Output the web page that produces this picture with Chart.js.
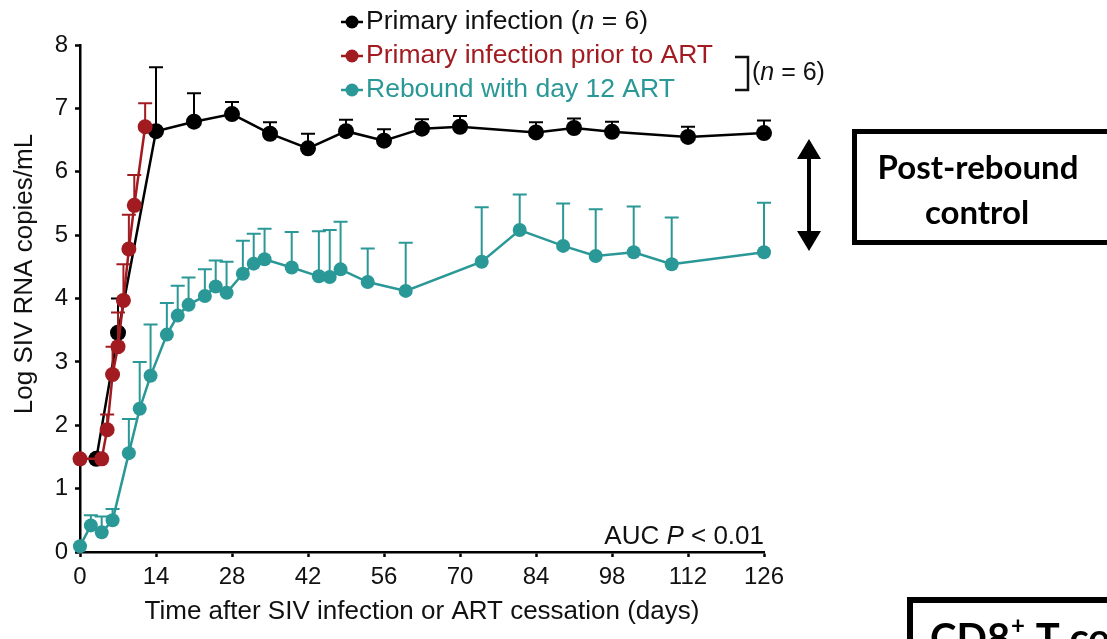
<!DOCTYPE html>
<html>
<head>
<meta charset="utf-8">
<script src="https://cdn.jsdelivr.net/npm/chart.js@4.4.1/dist/chart.umd.min.js"></script>
<style>
  html, body { margin: 0; padding: 0; background: #fff; }
  canvas { display: block; }
</style>
</head>
<body>
<canvas id="c" width="1107" height="639" style="width:1107px;height:639px"></canvas>
<script>
// ---------- data ----------
const xTicks = [0, 14, 28, 42, 56, 70, 84, 98, 112, 126];
const yTicks = [0, 1, 2, 3, 4, 5, 6, 7, 8];

const primaryDays = [3, 7, 14, 21, 28, 35, 42, 49, 56, 63, 70, 84, 91, 98, 112, 126];
const primaryVals = [1.47, 3.46, 6.64, 6.79, 6.91, 6.6, 6.37, 6.64, 6.49, 6.68, 6.71, 6.62, 6.69, 6.63, 6.55, 6.61];
const primaryErr  = [0, 0.54, 1.01, 0.45, 0.19, 0.18, 0.23, 0.18, 0.18, 0.15, 0.17, 0.16, 0.15, 0.16, 0.16, 0.2];

const priorDays = [0, 4, 5, 6, 7, 8, 9, 10, 12];
const priorVals = [1.47, 1.47, 1.93, 2.8, 3.24, 3.97, 4.78, 5.47, 6.71];
const priorErr  = [0, 0, 0.24, 0.44, 0.54, 0.57, 0.54, 0.48, 0.37];

const reboundDays = [0, 2, 4, 6, 9, 11, 13, 16, 18, 20, 23, 25, 27, 30, 32, 34, 39, 44, 46, 48, 53, 60, 74, 81, 89, 95, 102, 109, 126];
const reboundVals = [0.09, 0.42, 0.31, 0.5, 1.56, 2.26, 2.78, 3.43, 3.73, 3.9, 4.04, 4.19, 4.09, 4.39, 4.55, 4.62, 4.49, 4.35, 4.34, 4.46, 4.26, 4.12, 4.58, 5.08, 4.83, 4.67, 4.73, 4.54, 4.73];
const reboundErr  = [0, 0.16, 0.25, 0.18, 0.54, 0.74, 0.81, 0.5, 0.47, 0.43, 0.42, 0.41, 0.49, 0.52, 0.47, 0.48, 0.56, 0.71, 0.74, 0.75, 0.53, 0.76, 0.86, 0.56, 0.67, 0.74, 0.72, 0.74, 0.78];

const seriesLabels = ['Primary infection prior to ART', 'Primary infection', 'Rebound with day 12 ART'];

// ---------- styles ----------
const BLACK = '#000000';
const RED = '#a11b20';
const TEAL = '#2a9896';
const FONT = '"Liberation Sans", Arial, sans-serif';
const BOLDFONT = 'Lato, "Open Sans", sans-serif';

const toXY = (xs, ys) => xs.map((x, i) => ({ x: x, y: ys[i] }));
const errs = [priorErr, primaryErr, reboundErr];

function ds(label, xs, ys, color, r) {
  return {
    label: label,
    data: toXY(xs, ys),
    borderColor: color,
    backgroundColor: color,
    pointBackgroundColor: color,
    pointBorderColor: color,
    pointRadius: r,
    pointBorderWidth: 0,
    borderWidth: 2.5,
    tension: 0,
    clip: false
  };
}

const errorBars = {
  id: 'errorBars',
  beforeDatasetDraw(chart, args) {
    const i = args.index;
    const e = errs[i];
    const d = chart.data.datasets[i];
    const xs = chart.scales.x, ys = chart.scales.y;
    const c = chart.ctx;
    c.save();
    c.strokeStyle = d.borderColor;
    c.lineWidth = 2;
    d.data.forEach((p, k) => {
      if (!e[k]) return;
      const px = xs.getPixelForValue(p.x);
      const y0 = ys.getPixelForValue(p.y);
      const y1 = ys.getPixelForValue(p.y + e[k]);
      c.beginPath();
      c.moveTo(px, y0);
      c.lineTo(px, y1);
      c.moveTo(px - 7, y1);
      c.lineTo(px + 7, y1);
      c.stroke();
    });
    c.restore();
  }
};

function drawRich(c, parts, x, y, size, color, align) {
  let total = 0;
  parts.forEach(p => {
    c.font = (p[1] ? 'italic ' : '') + size + 'px ' + FONT;
    total += c.measureText(p[0]).width;
  });
  let cx = align === 'right' ? x - total : x;
  c.fillStyle = color;
  c.textBaseline = 'middle';
  c.textAlign = 'left';
  parts.forEach(p => {
    c.font = (p[1] ? 'italic ' : '') + size + 'px ' + FONT;
    c.fillText(p[0], cx, y);
    cx += c.measureText(p[0]).width;
  });
}

const extras = {
  id: 'extras',
  beforeDraw(chart) {
    const c = chart.ctx;
    c.save();
    c.fillStyle = '#fff';
    c.fillRect(0, 0, chart.width, chart.height);
    c.restore();
  },
  afterDraw(chart) {
    const c = chart.ctx;
    const area = chart.chartArea;
    c.save();
    // axis titles
    c.fillStyle = '#111';
    c.font = '26px ' + FONT;
    c.textAlign = 'center';
    c.textBaseline = 'middle';
    c.fillText('Time after SIV infection or ART cessation (days)', (area.left + area.right) / 2, 612);
    c.save();
    c.translate(25, 274);
    c.rotate(-Math.PI / 2);
    c.fillText('Log SIV RNA copies/mL', 0, 0);
    c.restore();

    // AUC
    drawRich(c, [['AUC ', false], ['P', true], [' < 0.01', false]], area.right, 537, 26, '#111', 'right');

    // legend
    const rows = [
      { y: 22, color: BLACK, text: [['Primary infection (', false], ['n', true], [' = 6)', false]], tc: '#111' },
      { y: 56, color: RED, text: [['Primary infection prior to ART', false]], tc: RED },
      { y: 90, color: TEAL, text: [['Rebound with day 12 ART', false]], tc: TEAL }
    ];
    rows.forEach(r => {
      c.strokeStyle = r.color;
      c.lineWidth = 2.5;
      c.beginPath();
      c.moveTo(341, r.y);
      c.lineTo(363, r.y);
      c.stroke();
      c.fillStyle = r.color;
      c.beginPath();
      c.arc(352, r.y, 6.5, 0, Math.PI * 2);
      c.fill();
      drawRich(c, r.text, 366, r.y, 26.5, r.tc, 'left');
    });
    // bracket
    c.strokeStyle = '#111';
    c.lineWidth = 2.5;
    c.beginPath();
    c.moveTo(735, 57);
    c.lineTo(748, 57);
    c.lineTo(748, 90);
    c.lineTo(735, 90);
    c.stroke();
    drawRich(c, [['(', false], ['n', true], [' = 6)', false]], 752, 73, 25, '#111', 'left');

    // double arrow
    c.fillStyle = '#000';
    c.strokeStyle = '#000';
    c.lineWidth = 4;
    c.beginPath();
    c.moveTo(809, 152);
    c.lineTo(809, 238);
    c.stroke();
    c.beginPath();
    c.moveTo(809, 139); c.lineTo(821, 159); c.lineTo(797, 159); c.closePath(); c.fill();
    c.beginPath();
    c.moveTo(809, 251); c.lineTo(821, 231); c.lineTo(797, 231); c.closePath(); c.fill();

    // annotation box
    c.lineWidth = 5;
    c.strokeRect(854.5, 131.5, 280, 111);
    c.fillStyle = '#000';
    c.font = 'bold 33px ' + BOLDFONT;
    c.textAlign = 'center';
    c.textBaseline = 'middle';
    c.fillText('Post-rebound', 978, 168);
    c.fillText('control', 977, 213);

    // bottom-right box (cut off)
    c.lineWidth = 6;
    c.strokeRect(910, 600, 260, 100);
    c.textAlign = 'left';
    c.textBaseline = 'alphabetic';
    c.font = 'bold 40px ' + BOLDFONT;
    let tx = 930;
    c.fillText('CD8', tx, 652);
    tx += c.measureText('CD8').width;
    c.font = 'bold 24px ' + BOLDFONT;
    c.fillText('+', tx + 1, 634);
    tx += c.measureText('+').width + 2;
    c.font = 'bold 40px ' + BOLDFONT;
    c.fillText(' T cell', tx, 652);
    c.restore();
  }
};

const axisCommon = {
  border: { display: true, color: '#000', width: 2.5 },
  grid: { display: true, drawOnChartArea: false, drawTicks: true, tickLength: 5, tickColor: '#000', tickWidth: 2.5 },
};

new Chart(document.getElementById('c'), {
  type: 'line',
  data: {
    datasets: [
      ds(seriesLabels[0], priorDays, priorVals, RED, 7.5),
      ds(seriesLabels[1], primaryDays, primaryVals, BLACK, 8),
      ds(seriesLabels[2], reboundDays, reboundVals, TEAL, 7)
    ]
  },
  options: {
    responsive: false,
    animation: false,
    devicePixelRatio: 1,
    layout: { padding: { left: 0, top: 45, right: 343, bottom: 0 } },
    plugins: { legend: { display: false }, tooltip: { enabled: false } },
    scales: {
      x: Object.assign({}, axisCommon, {
        type: 'linear', min: 0, max: 126,
        afterBuildTicks(s) { s.ticks = xTicks.map(v => ({ value: v })); },
        ticks: { color: '#111', font: { family: FONT, size: 24 }, padding: 6, maxRotation: 0, autoSkip: false },
        afterFit(s) { s.height = 87; }
      }),
      y: Object.assign({}, axisCommon, {
        type: 'linear', min: 0, max: 8,
        afterBuildTicks(s) { s.ticks = yTicks.map(v => ({ value: v })); },
        ticks: { color: '#111', font: { family: FONT, size: 24 }, padding: 7 },
        afterFit(s) { s.width = 80; }
      })
    }
  },
  plugins: [errorBars, extras]
});
</script>
</body>
</html>
